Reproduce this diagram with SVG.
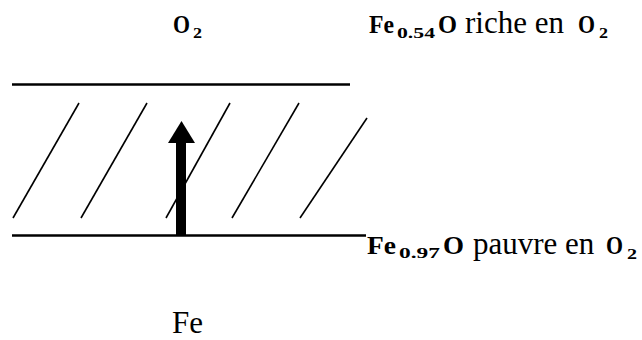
<svg xmlns="http://www.w3.org/2000/svg" width="642" height="340" viewBox="0 0 642 340">
<style>
.t{font-family:"Liberation Serif","Times New Roman",serif;font-size:31px;fill:#000}
.f{font-family:"Liberation Serif","Times New Roman",serif;font-weight:bold;font-size:25px;fill:#000}
.s{font-family:"Liberation Serif","Times New Roman",serif;font-weight:bold;font-size:15px;fill:#000}
.h{stroke:#000;stroke-width:1.6;fill:none}
.b{stroke:#000;stroke-width:2.6;fill:none}
</style>
<rect width="642" height="340" fill="#fff"/>
<g id="layer">
<line class="b" x1="12" y1="84.5" x2="350" y2="84.5"/>
<line class="b" x1="12" y1="235.5" x2="366" y2="235.5"/>
<line class="h" x1="13" y1="218" x2="79" y2="103"/>
<line class="h" x1="81" y1="218" x2="147" y2="103"/>
<line class="h" x1="166" y1="218" x2="230" y2="103"/>
<line class="h" x1="232" y1="218" x2="299" y2="103"/>
<line class="h" x1="300" y1="218" x2="367" y2="118"/>
</g>
<g id="connectors">
<rect x="176" y="142" width="10" height="94" fill="#000"/>
<polygon points="168,143 195,143 181.5,121" fill="#000"/>
</g>
<g id="top-o2">
<text class="f" x="173" y="33" textLength="17" lengthAdjust="spacingAndGlyphs">O</text>
<text class="s" x="193" y="38" textLength="9" lengthAdjust="spacingAndGlyphs">2</text>
</g>
<g id="top-right">
<text class="f" x="369" y="33" textLength="25" lengthAdjust="spacingAndGlyphs">Fe</text>
<text class="s" x="397" y="38" textLength="38" lengthAdjust="spacingAndGlyphs">0.54</text>
<text class="f" x="438" y="33" textLength="19" lengthAdjust="spacingAndGlyphs">O</text>
<text class="t" x="465" y="33">riche en</text>
<text class="f" x="578" y="33" textLength="17" lengthAdjust="spacingAndGlyphs">O</text>
<text class="s" x="599" y="38" textLength="9" lengthAdjust="spacingAndGlyphs">2</text>
</g>
<g id="bottom-right">
<text class="f" x="367" y="254" textLength="29" lengthAdjust="spacingAndGlyphs">Fe</text>
<text class="s" x="399" y="258" textLength="41" lengthAdjust="spacingAndGlyphs">0.97</text>
<text class="f" x="443" y="254" textLength="21" lengthAdjust="spacingAndGlyphs">O</text>
<text class="t" x="473" y="254">pauvre en</text>
<text class="f" x="606" y="254" textLength="17" lengthAdjust="spacingAndGlyphs">O</text>
<text class="s" x="627" y="259" textLength="10" lengthAdjust="spacingAndGlyphs">2</text>
</g>
<g id="bottom-fe">
<text class="t" x="172" y="333">Fe</text>
</g>
</svg>
